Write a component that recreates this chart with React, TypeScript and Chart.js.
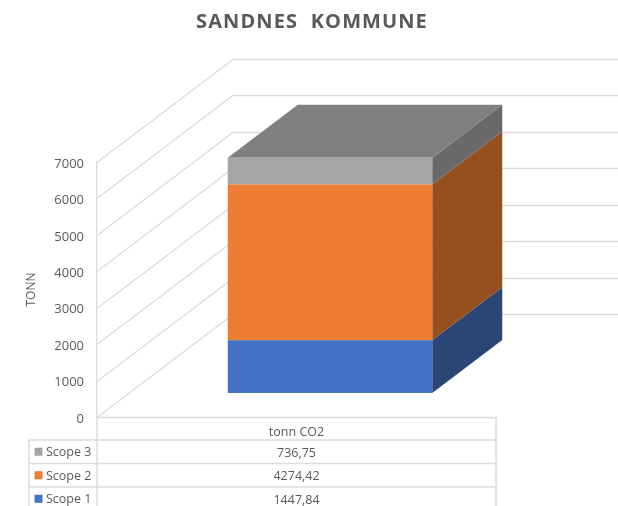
import React, { useEffect, useRef } from "react";
import { Chart, registerables } from "chart.js";

Chart.register(...registerables);

const chartTitle = "SANDNES  KOMMUNE";
const yTitle = "TONN";
const categories = ["tonn CO2"];
const scope1 = [1447.84];
const scope2 = [4274.42];
const scope3 = [736.75];

const FONT = "'Open Sans', sans-serif";
const TEXT = "#595959";
const LINE = "#DCDCDC";

const fmt = (v: number) => v.toFixed(2).replace(".", ",");

const plugin3d = {
  id: "plugin3d",
  afterLayout(chart: any) {
    const tb = chart.titleBlock;
    if (tb && !tb.__spaced) {
      const orig = tb.draw.bind(tb);
      tb.draw = (...args: any[]) => {
        const c = chart.ctx;
        c.save();
        c.translate(chart.options.plugins.plugin3d.titleShift, 0);
        c.letterSpacing = "1.1px";
        orig(...args);
        c.restore();
      };
      tb.__spaced = true;
    }
  },
  beforeDatasetsDraw(chart: any) {
    const { ctx, chartArea, scales } = chart;
    const y = scales.y;
    const o = chart.options.plugins.plugin3d;
    const W = chart.width;
    ctx.save();
    ctx.strokeStyle = LINE;
    ctx.lineWidth = 1.3;
    for (const t of y.ticks) {
      const py = Math.round(y.getPixelForValue(t.value)) + 0.5;
      ctx.beginPath();
      ctx.moveTo(chartArea.left, py);
      ctx.lineTo(chartArea.left + o.wallDx, py - o.wallDy);
      ctx.lineTo(W, py - o.wallDy);
      ctx.stroke();
    }
    ctx.restore();

    // depth faces of every stacked segment
    ctx.save();
    ctx.translate(o.barDx, -o.barDy);
    chart.data.datasets.forEach((ds: any, i: number) => {
      const el = chart.getDatasetMeta(i).data[0];
      const right = el.x + el.width / 2;
      ctx.fillStyle = ds.sideColor;
      ctx.beginPath();
      ctx.moveTo(right, el.base);
      ctx.lineTo(right + o.depthDx, el.base - o.depthDy);
      ctx.lineTo(right + o.depthDx, el.y - o.depthDy);
      ctx.lineTo(right, el.y);
      ctx.closePath();
      ctx.fill();
      if (i === chart.data.datasets.length - 1) {
        const left = el.x - el.width / 2;
        ctx.fillStyle = ds.topColor;
        ctx.beginPath();
        ctx.moveTo(left, el.y);
        ctx.lineTo(left + o.depthDx, el.y - o.depthDy);
        ctx.lineTo(right + o.depthDx, el.y - o.depthDy);
        ctx.lineTo(right, el.y);
        ctx.closePath();
        ctx.fill();
      }
    });
    ctx.restore();

    ctx.save();
    ctx.translate(o.barDx, -o.barDy);
  },
  afterDatasetsDraw(chart: any) {
    chart.ctx.restore();
  },
  afterDraw(chart: any) {
    const { ctx, chartArea } = chart;
    const o = chart.options.plugins.plugin3d;
    const L = o.tableLeft;
    const A = chartArea.left;
    const R = chartArea.right;
    const rows = [chart.data.datasets[2], chart.data.datasets[1], chart.data.datasets[0]];
    ctx.save();
    ctx.strokeStyle = LINE;
    ctx.lineWidth = 1.5;
    ctx.beginPath();
    ctx.moveTo(A, chartArea.bottom + 0.5);
    ctx.lineTo(R, chartArea.bottom + 0.5);
    ctx.moveTo(A, chartArea.bottom);
    ctx.lineTo(A, chart.height);
    ctx.moveTo(R, chartArea.bottom);
    ctx.lineTo(R, chart.height);
    ctx.moveTo(L, o.rowTop);
    ctx.lineTo(L, chart.height);
    rows.forEach((_: any, i: number) => {
      const ry = o.rowTop + i * o.rowH;
      ctx.moveTo(L, ry);
      ctx.lineTo(R, ry);
    });
    ctx.stroke();
    ctx.font = `${o.fontSize}px ${FONT}`;
    ctx.textBaseline = "middle";
    rows.forEach((ds: any, i: number) => {
      const cy = o.rowTop + i * o.rowH + o.rowH / 2;
      ctx.fillStyle = ds.backgroundColor;
      ctx.fillRect(L + 5.5, cy - 4, 8, 8);
      ctx.fillStyle = TEXT;
      ctx.textAlign = "left";
      ctx.fillText(ds.label, L + 17, cy + 1);
      ctx.textAlign = "center";
      ctx.fillText(fmt(ds.data[0]), (A + R) / 2, cy + 1.5);
    });
    ctx.restore();
  },
};

export default function App() {
  const ref = useRef<HTMLCanvasElement>(null);
  useEffect(() => {
    const chart = new Chart(ref.current as HTMLCanvasElement, {
      type: "bar",
      data: {
        labels: categories,
        datasets: [
          { label: "Scope 1", data: scope1, backgroundColor: "#4472C4", sideColor: "#2A4674", clip: false },
          { label: "Scope 2", data: scope2, backgroundColor: "#ED7D31", sideColor: "#964F1F", clip: false },
          { label: "Scope 3", data: scope3, backgroundColor: "#A5A5A5", sideColor: "#696969", topColor: "#7F7F7F", clip: false },
        ] as any,
      },
      options: {
        animation: false,
        responsive: false,
        events: [],
        layout: { padding: { left: 0, right: 122, top: 0, bottom: 0 } },
        datasets: { bar: { categoryPercentage: 1, barPercentage: 0.5125 } },
        scales: {
          x: {
            stacked: true,
            grid: { display: false },
            border: { display: false },
            ticks: { color: TEXT, font: { family: FONT, size: 12.5 }, padding: 0, maxRotation: 0 },
            afterFit: (s: any) => { s.height = 89; },
          },
          y: {
            stacked: true,
            min: 0,
            max: 7000,
            grid: { display: false, drawTicks: false },
            border: { display: true, color: LINE, width: 1.3 },
            ticks: {
              stepSize: 1000,
              color: TEXT,
              font: { family: FONT, size: 13 },
              padding: 13,
              labelOffset: 2,
              callback: (v: any) => String(v),
            },
            title: { display: true, text: yTitle, color: TEXT, font: { family: FONT, size: 12 }, padding: { top: 24, bottom: 0 } },
            afterFit: (s: any) => { s.width = 97; },
          },
        },
        plugins: {
          legend: { display: false },
          tooltip: { enabled: false },
          title: {
            display: true,
            text: chartTitle,
            color: TEXT,
            font: { family: FONT, size: 20, weight: "bold", lineHeight: 1 },
            padding: { top: 12, bottom: 130 },
          },
          plugin3d: {
            titleShift: 64,
            wallDx: 136, wallDy: 103,
            barDx: 33.5, barDy: 24,
            depthDx: 70, depthDy: 53,
            tableLeft: 29, rowTop: 440, rowH: 23.5, fontSize: 12.5,
          },
        } as any,
      },
      plugins: [plugin3d],
    } as any);
    return () => chart.destroy();
  }, []);
  return <canvas ref={ref} width={618} height={506} style={{ position: "fixed", left: 0, top: 0, display: "block" }} />;
}
